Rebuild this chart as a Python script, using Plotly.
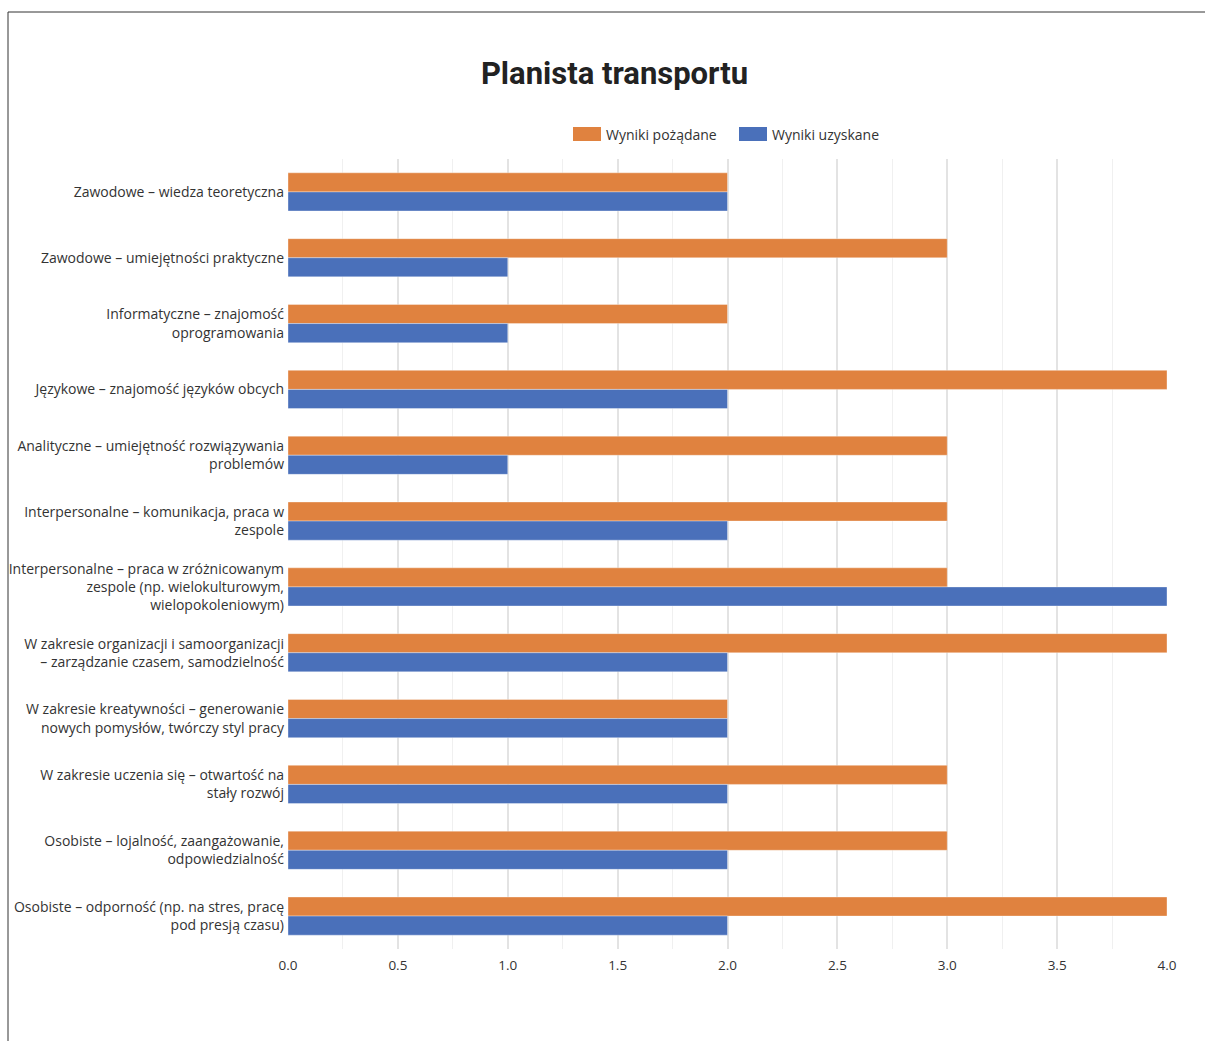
import plotly.graph_objects as go

categories = [
    "Zawodowe – wiedza teoretyczna",
    "Zawodowe – umiejętności praktyczne",
    "Informatyczne – znajomość<br>oprogramowania",
    "Językowe – znajomość języków obcych",
    "Analityczne – umiejętność rozwiązywania<br>problemów",
    "Interpersonalne – komunikacja, praca w<br>zespole",
    "Interpersonalne – praca w zróżnicowanym<br>zespole (np. wielokulturowym,<br>wielopokoleniowym)",
    "W zakresie organizacji i samoorganizacji<br>– zarządzanie czasem, samodzielność",
    "W zakresie kreatywności – generowanie<br>nowych pomysłów, twórczy styl pracy",
    "W zakresie uczenia się – otwartość na<br>stały rozwój",
    "Osobiste – lojalność, zaangażowanie,<br>odpowiedzialność",
    "Osobiste – odporność (np. na stres, pracę<br>pod presją czasu)",
]
desired = [2, 3, 2, 4, 3, 3, 3, 4, 2, 3, 3, 4]
obtained = [2, 1, 1, 2, 1, 2, 4, 2, 2, 2, 2, 2]
series_names = ["Wyniki pożądane", "Wyniki uzyskane"]
series_colors = ["#E0823F", "#4A70BA"]
x_ticks = [0, 0.5, 1, 1.5, 2, 2.5, 3, 3.5, 4]
x_ticktext = ["0.0", "0.5", "1.0", "1.5", "2.0", "2.5", "3.0", "3.5", "4.0"]

W, H = 1205, 1041
L, R, T, B = 288, 1167, 159, 949

def px(x):
    return (x - L) / (R - L)

def py(y):
    return (B - y) / (B - T)

FONT = "Open Sans"
TXT = "#333333"

fig = go.Figure()
for name, vals, col in zip(series_names, [desired, obtained], series_colors):
    fig.add_trace(go.Bar(
        y=categories, x=vals, name=name, orientation="h",
        marker=dict(color=col, line=dict(color="rgba(255,255,255,0.35)", width=1)),
        showlegend=False,
    ))

shapes = [
    dict(type="line", xref="paper", yref="paper", x0=px(8), x1=px(1205), y0=py(12), y1=py(12),
         line=dict(color="#333333", width=1)),
    dict(type="line", xref="paper", yref="paper", x0=px(8), x1=px(8), y0=py(12), y1=py(1041),
         line=dict(color="#333333", width=1)),
]
annotations = []
leg = [(573, 604), (739, 770)]
for (sx, tx), name, col in zip(leg, series_names, series_colors):
    shapes.append(dict(type="rect", xref="paper", yref="paper",
                       x0=px(sx), x1=px(sx + 28), y0=py(127), y1=py(141),
                       fillcolor=col, line=dict(width=0)))
    annotations.append(dict(xref="paper", yref="paper", x=px(tx), y=py(134),
                            xanchor="left", yanchor="middle", text=name, showarrow=False,
                            font=dict(family=FONT, size=14, color=TXT)))

fig.update_layout(
    width=W, height=H,
    margin=dict(l=L, r=W - R, t=T, b=H - B, pad=0, autoexpand=False),
    paper_bgcolor="white", plot_bgcolor="white",
    barmode="group", bargap=0.42, bargroupgap=0,
    title=dict(text="<b>Planista transportu</b>", x=614.5 / W, xanchor="center",
               y=1 - 73 / H, yanchor="middle", yref="container",
               font=dict(family="Roboto", size=31, color="#222222")),
    font=dict(family=FONT, size=14, color=TXT),
    shapes=shapes, annotations=annotations,
    xaxis=dict(range=[0, 4], tickvals=x_ticks, ticktext=x_ticktext, automargin=False,
               showgrid=True, gridcolor="#e3e3e3", gridwidth=2,
               minor=dict(dtick=0.25, showgrid=True, gridcolor="#f0f0f0", gridwidth=1),
               zeroline=False, showline=False, ticks="",
               tickfont=dict(family=FONT, size=13.5, color=TXT), ticklabelstandoff=6),
    yaxis=dict(autorange="reversed", showgrid=False, zeroline=False, showline=False,
               automargin=False, ticks="",
               tickfont=dict(family=FONT, size=14, color=TXT), ticklabelstandoff=3),
)

fig.write_html("out.html")
